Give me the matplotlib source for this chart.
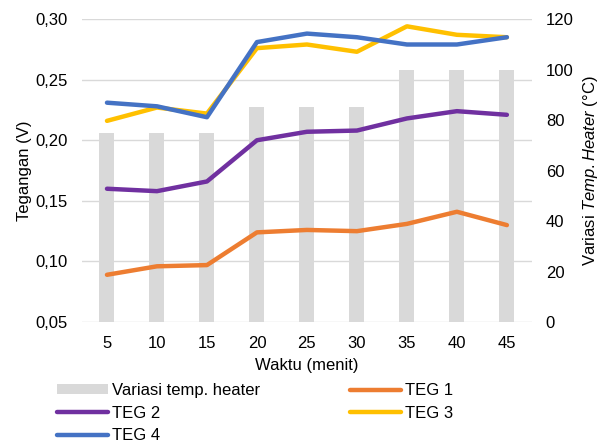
import numpy as np
import matplotlib.pyplot as plt

plt.rcParams['font.family'] = ['Liberation Sans', 'DejaVu Sans']
plt.rcParams['mathtext.fontset'] = 'custom'
plt.rcParams['mathtext.it'] = 'Liberation Sans:italic'
plt.rcParams['mathtext.rm'] = 'Liberation Sans'

waktu = ['5', '10', '15', '20', '25', '30', '35', '40', '45']
temp_heater = [75, 75, 75, 85, 85, 85, 100, 100, 100]
teg1 = [0.089, 0.096, 0.097, 0.124, 0.126, 0.125, 0.131, 0.141, 0.130]
teg2 = [0.160, 0.158, 0.166, 0.200, 0.207, 0.208, 0.218, 0.224, 0.221]
teg3 = [0.216, 0.227, 0.222, 0.276, 0.279, 0.273, 0.294, 0.287, 0.285]
teg4 = [0.231, 0.228, 0.219, 0.281, 0.288, 0.285, 0.279, 0.279, 0.285]

fs = 12

fig = plt.figure(figsize=(6.01, 4.43), dpi=100)
ax = fig.add_axes([0.1364, 0.273, 0.7486, 0.684])
ax2 = ax.twinx()

x = np.arange(len(waktu))

# bars on the secondary axis, behind the lines
ax2.set_zorder(0)
ax.set_zorder(1)
ax.patch.set_visible(False)
bars = ax2.bar(x, temp_heater, width=0.3, color='#D9D9D9', label='Variasi temp. heater')
ax2.set_ylim(0, 120)
ax2.set_yticks(range(0, 121, 20))

lw = 3.2
l1, = ax.plot(x, teg1, color='#ED7D31', lw=lw, label='TEG 1', solid_capstyle='round')
l2, = ax.plot(x, teg2, color='#7030A0', lw=lw, label='TEG 2', solid_capstyle='round')
l3, = ax.plot(x, teg3, color='#FFC000', lw=lw, label='TEG 3', solid_capstyle='round')
l4, = ax.plot(x, teg4, color='#4472C4', lw=lw, label='TEG 4', solid_capstyle='round')

ax.set_ylim(0.05, 0.30)
ax.set_yticks(np.arange(0.05, 0.301, 0.05))
ax.set_yticklabels([f'{v:.2f}'.replace('.', ',') for v in np.arange(0.05, 0.301, 0.05)])
ax.set_xlim(-0.5, len(waktu) - 0.5)
ax.set_xticks(x)
ax.set_xticklabels(waktu)

for a in (ax, ax2):
    for s in a.spines.values():
        s.set_visible(False)
    a.tick_params(length=0, labelsize=fs, colors='#000000')

# gridlines drawn on bar axis so they sit behind bars
for v in np.arange(0.05, 0.301, 0.05):
    ax2.axhline((v - 0.05) / 0.25 * 120, color='#D9D9D9', lw=1, zorder=-1)

ax.tick_params(axis='y', pad=10)
ax2.tick_params(axis='y', pad=10)
ax.tick_params(axis='x', pad=10)

ax.set_xlabel('Waktu (menit)', fontsize=fs, labelpad=5)
ax.set_ylabel('Tegangan (V)', fontsize=fs, labelpad=3)
ax2.set_ylabel('Variasi $\\it{Temp.Heater}$ (°C)', fontsize=fs, labelpad=5)

handles = [bars, l2, l4, l1, l3]
labels = ['Variasi temp. heater', 'TEG 2', 'TEG 4', 'TEG 1', 'TEG 3']
fig.legend(handles, labels, ncol=2, loc='upper left', bbox_to_anchor=(0.095, 0.135),
           frameon=False, fontsize=fs, handlelength=3.05, handleheight=0.55,
           columnspacing=5.4, labelspacing=0.45, handletextpad=0.25,
           borderaxespad=0, borderpad=0)

fig.savefig('out.png', dpi=100)
